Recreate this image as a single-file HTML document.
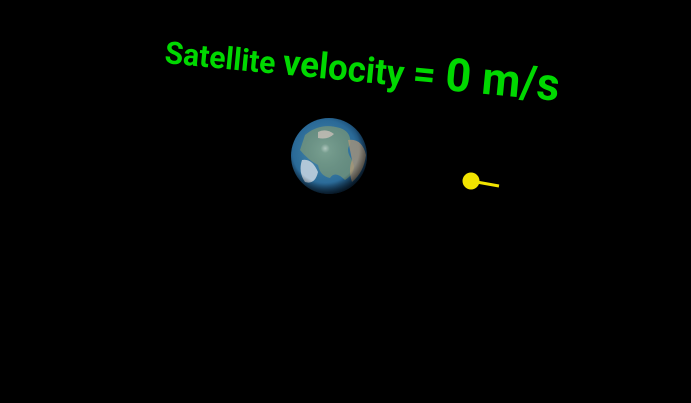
<!DOCTYPE html>
<html><head><meta charset="utf-8"><style>
html,body{margin:0;padding:0;background:#000;width:691px;height:403px;overflow:hidden}
</style></head><body>
<svg width="691" height="403" viewBox="0 0 691 403" xmlns="http://www.w3.org/2000/svg">
<defs>
<radialGradient id="ocean" cx="45%" cy="45%" r="60%">
<stop offset="0" stop-color="#4a8fb0"/><stop offset="0.7" stop-color="#2a6a98"/><stop offset="1" stop-color="#0d2f50"/>
</radialGradient>
<radialGradient id="shade" cx="45%" cy="40%" r="60%">
<stop offset="0" stop-color="#fff" stop-opacity="0.45"/><stop offset="0.1" stop-color="#fff" stop-opacity="0.05"/><stop offset="0.75" stop-color="#000" stop-opacity="0"/><stop offset="1" stop-color="#000" stop-opacity="0.6"/>
</radialGradient>
<clipPath id="earthclip"><circle cx="329" cy="156" r="38"/></clipPath>
</defs>
<rect width="691" height="403" fill="#000"/>
<text transform="translate(164,63) rotate(5.5)" font-family="Roboto, 'Liberation Sans', sans-serif" font-weight="bold" fill="#00d800" textLength="396" lengthAdjust="spacingAndGlyphs"><tspan font-size="31">Satellite </tspan><tspan font-size="36">velocity </tspan><tspan font-size="41">= </tspan><tspan font-size="46">0 m/s</tspan></text>
<g>
<circle cx="329" cy="156" r="38" fill="url(#ocean)"/>
<g clip-path="url(#earthclip)">
<path d="M305 135 Q320 122 340 128 Q352 132 350 145 Q345 150 352 160 Q358 172 345 180 Q335 170 330 178 Q320 176 318 165 Q308 160 300 150 Z" fill="#8aa070" opacity="0.6"/>
<path d="M348 140 Q362 138 366 155 Q364 172 352 182 Q348 170 352 160 Z" fill="#b89a78" opacity="0.7"/>
<path d="M302 160 Q312 158 318 172 Q315 185 305 182 Q298 172 302 160 Z" fill="#dfe6ee" opacity="0.75"/>
<path d="M318 132 Q326 128 334 134 Q328 140 318 138 Z" fill="#d8c8c0" opacity="0.7"/>
</g>
<circle cx="329" cy="156" r="38" fill="url(#shade)"/>
</g>
<g>
<line x1="471" y1="181" x2="499" y2="186" stroke="#f2e400" stroke-width="3"/>
<circle cx="471" cy="181" r="8.5" fill="#f2e400"/>
</g>
</svg>
</body></html>
